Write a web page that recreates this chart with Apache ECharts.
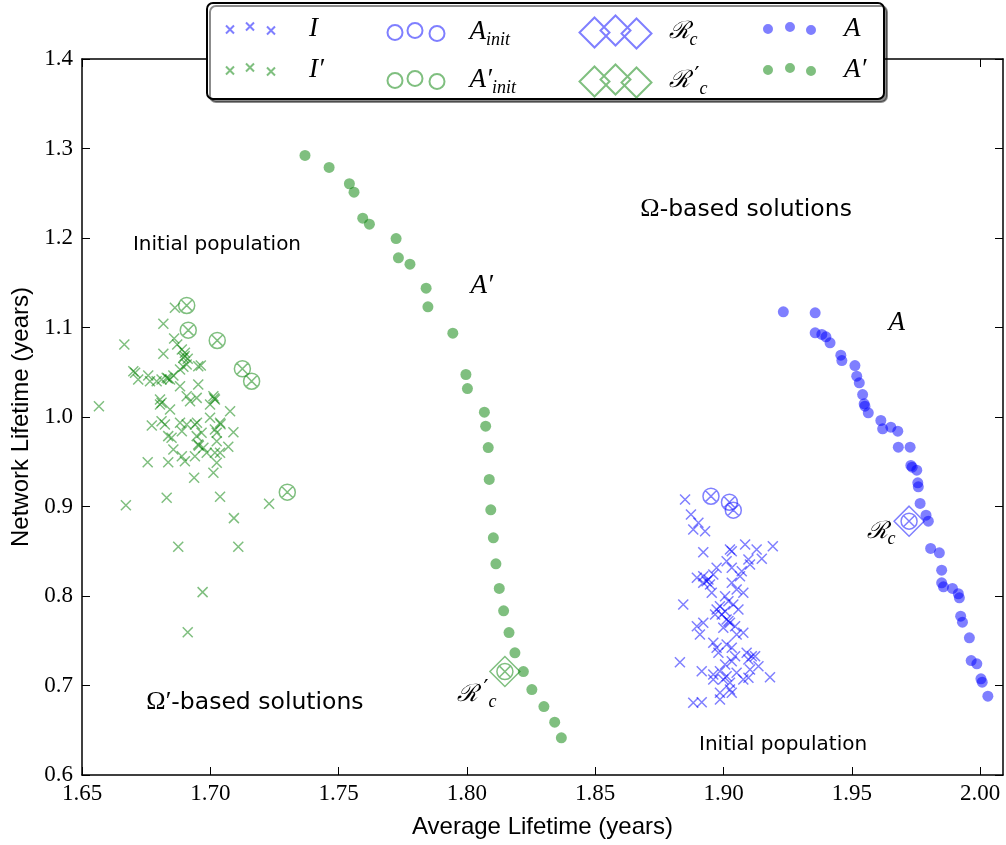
<!DOCTYPE html>
<html>
<head>
<meta charset="utf-8">
<script src="https://cdn.jsdelivr.net/npm/echarts@6/dist/echarts.min.js"></script>
<style>
  html, body { margin: 0; padding: 0; background: #fff; }
  #chart { width: 1006px; height: 845px; }
</style>
</head>
<body>
<div id="chart"></div>
<script>
// Axis ticks
const xTicks = [1.65, 1.70, 1.75, 1.80, 1.85, 1.90, 1.95, 2.00];
const xMin = 1.65, xMax = 2.0089;
const yMin = 0.6, yMax = 1.4, yStep = 0.1;

// Initial population for the Omega-based run (I)
const popI = [
  [1.8850,0.9078],[1.8873,0.8911],[1.8902,0.8818],[1.8882,0.8743],[1.8928,0.8724],
  [1.8921,0.8489],[1.9025,0.8520],[1.9032,0.8501],[1.9084,0.8575],[1.9129,0.8520],
  [1.9192,0.8556],[1.9149,0.8416],[1.9097,0.8408],[1.8896,0.8203],[1.8921,0.8221],
  [1.8941,0.8184],[1.8960,0.8240],[1.8973,0.8315],[1.8947,0.8128],[1.8921,0.8147],
  [1.8934,0.8165],[1.9012,0.8389],[1.9032,0.8315],[1.9071,0.8277],[1.9103,0.8352],
  [1.9064,0.8221],[1.8954,0.8036],[1.9032,0.8147],[1.9051,0.8073],[1.9077,0.8036],
  [1.8843,0.7905],[1.9006,0.7998],[1.9019,0.7942],[1.8986,0.7886],[1.9038,0.7905],
  [1.9058,0.7849],[1.8973,0.7849],[1.8993,0.7793],[1.9006,0.7830],[1.9012,0.7737],
  [1.9019,0.7720],[1.9025,0.7701],[1.9045,0.7663],[1.8999,0.7645],[1.8967,0.7793],
  [1.8896,0.7663],[1.8921,0.7701],[1.8908,0.7570],[1.9051,0.7570],[1.9077,0.7589],
  [1.8960,0.7477],[1.8973,0.7421],[1.8980,0.7365],[1.9012,0.7458],[1.9032,0.7421],
  [1.9045,0.7327],[1.9090,0.7365],[1.9110,0.7327],[1.9097,0.7291],[1.9123,0.7327],
  [1.8830,0.7260],[1.8915,0.7160],[1.8960,0.7123],[1.8986,0.7160],[1.9006,0.7235],
  [1.9032,0.7271],[1.9051,0.7142],[1.9103,0.7179],[1.9136,0.7216],[1.9077,0.7067],
  [1.9097,0.7086],[1.9181,0.7093],[1.8960,0.7067],[1.8999,0.7067],[1.9025,0.7030],
  [1.9012,0.7104],[1.8986,0.6918],[1.9025,0.6955],[1.9032,0.6918],[1.8882,0.6807],
  [1.8915,0.6813],[1.8986,0.6844]
];

// Initial population for the Omega'-based run (I')
const popIp = [
  [1.6862,1.1220],[1.6817,1.1041],[1.6665,1.0810],[1.6859,1.0877],[1.6817,1.0706],
  [1.6871,1.0810],[1.6889,1.0754],[1.6901,1.0717],[1.6895,1.0661],[1.6908,1.0587],
  [1.6895,1.0561],[1.6882,1.0531],[1.6953,1.0568],[1.6963,1.0575],[1.6700,1.0512],
  [1.6707,1.0494],[1.6719,1.0419],[1.6758,1.0464],[1.6765,1.0400],[1.6791,1.0400],
  [1.6810,1.0419],[1.6830,1.0438],[1.6843,1.0419],[1.6856,1.0464],[1.6882,1.0344],
  [1.6908,1.0232],[1.6953,1.0363],[1.6804,1.0196],[1.6804,1.0140],[1.6843,1.0084],
  [1.6921,1.0177],[1.6947,1.0214],[1.7012,1.0232],[1.7018,1.0196],[1.6999,1.0140],
  [1.7077,1.0065],[1.6566,1.0121],[1.6772,0.9905],[1.6810,0.9953],[1.6823,0.9916],
  [1.6882,0.9935],[1.6889,0.9841],[1.6908,0.9916],[1.6940,0.9916],[1.6948,0.9935],
  [1.6999,0.9991],[1.7018,0.9860],[1.7038,0.9935],[1.7025,0.9823],[1.6836,0.9786],
  [1.6849,0.9768],[1.6947,0.9786],[1.6966,0.9823],[1.7090,0.9830],[1.7025,0.9730],
  [1.7070,0.9667],[1.6856,0.9637],[1.6889,0.9562],[1.6901,0.9506],[1.6940,0.9562],
  [1.6953,0.9693],[1.6973,0.9656],[1.6986,0.9600],[1.7018,0.9600],[1.7038,0.9600],
  [1.6756,0.9495],[1.6836,0.9495],[1.7025,0.9488],[1.6937,0.9321],[1.7012,0.9377],
  [1.6830,0.9097],[1.7038,0.9108],[1.6671,0.9015],[1.7229,0.9030],[1.7092,0.8870],
  [1.6875,0.8550],[1.7109,0.8550],[1.6970,0.8043],[1.6912,0.7596],
  [1.6900,1.0680],[1.6912,1.0650],[1.6835,1.0430],[1.7015,1.0210],[1.6955,0.9680],
  [1.7040,0.9920],[1.6810,1.0160]
];

// Solutions picked to seed each run
const initA = [[1.8951,0.9115],[1.9023,0.9048],[1.9038,0.8959]];
const initAp = [[1.6908,1.1246],[1.6914,1.0970],[1.7027,1.0855],[1.7125,1.0539],[1.7161,1.0400],[1.7300,0.9160]];

// Compromise solutions
const refRc = [[1.9723,0.8836]];
const refRcp = [[1.8148,0.7156]];

// Final Pareto front, Omega-based (A)
const frontA = [
  [1.9233,1.1175],[1.9357,1.1164],[1.9357,1.0941],[1.9383,1.0922],[1.9399,1.0896],
  [1.9415,1.0829],[1.9457,1.0691],[1.9461,1.0631],[1.9512,1.0575],[1.9519,1.0456],
  [1.9529,1.0382],[1.9542,1.0251],[1.9548,1.0147],[1.9551,1.0121],[1.9564,1.0047],
  [1.9613,0.9961],[1.9620,0.9868],[1.9652,0.9886],[1.9679,0.9841],[1.9681,0.9663],
  [1.9727,0.9663],[1.9730,0.9458],[1.9735,0.9439],[1.9753,0.9406],[1.9757,0.9265],
  [1.9759,0.9220],[1.9766,0.9034],[1.9789,0.8903],[1.9798,0.8836],[1.9807,0.8531],
  [1.9841,0.8483],[1.9850,0.8288],[1.9850,0.8147],[1.9857,0.8103],[1.9892,0.8084],
  [1.9915,0.8025],[1.9919,0.7980],[1.9924,0.7774],[1.9931,0.7707],[1.9958,0.7533],
  [1.9965,0.7279],[1.9987,0.7242],[2.0003,0.7075],[2.0008,0.7037],[2.0030,0.6881]
];

// Final Pareto front, Omega'-based (A')
const frontAp = [
  [1.7369,1.2922],[1.7463,1.2788],[1.7542,1.2606],[1.7560,1.2512],[1.7594,1.2221],
  [1.7620,1.2154],[1.7724,1.1994],[1.7733,1.1779],[1.7778,1.1707],[1.7841,1.1439],
  [1.7848,1.1231],[1.7945,1.0936],[1.7996,1.0475],[1.8002,1.0318],[1.8068,1.0054],
  [1.8073,0.9897],[1.8083,0.9659],[1.8087,0.9302],[1.8093,0.8963],[1.8103,0.8650],
  [1.8113,0.8360],[1.8126,0.8084],[1.8143,0.7835],[1.8164,0.7592],[1.8187,0.7365],
  [1.8220,0.7156],[1.8253,0.6955],[1.8300,0.6765],[1.8342,0.6590],[1.8368,0.6416]
];

// Text notes placed in data space
const noteX = [1.7026, 1.9232, 1.9088, 1.7174, 1.8058, 1.9675, 1.9614, 1.8039];
const noteY = [1.1927, 0.6341, 1.2318, 0.6810, 1.1462, 1.1053, 0.8721, 0.6899];
const noteText = [
  '{t|Initial population}',
  '{t|Initial population}',
  '{g|Ω}{u|-based solutions}',
  '{g|Ω′}{u|-based solutions}',
  '{m|A′}',
  '{m|A}',
  '{c|ℛ}{s|c}',
  '{c|ℛ}{p|′}{s|c}'
];

// Series names and their typeset legend labels
const legendText = {
  'I': '{m|I}',
  'I′': '{m|I′}',
  'A_init': '{m|A}{s|init}',
  'A′_init': '{m|A′}{s|init}',
  'R_c': '{c|ℛ}{s|c}',
  'R′_c': '{c|ℛ}{p|′}{s|c}',
  'A': '{m|A}',
  'A′': '{m|A′}'
};

const BLUE = 'rgba(0,0,255,0.5)';
const GREEN = 'rgba(0,128,0,0.5)';

// Marker shapes
const crossSym = 'path://M0,0L10,10M10,0L0,10';
const ringCrossSym = 'path://M0,8A8,8 0 1,1 16,8A8,8 0 1,1 0,8ZM2.34,2.34L13.66,13.66M13.66,2.34L2.34,13.66';
const diamondRingSym = 'path://M15,0L30,15L15,30L0,15ZM7,15A8,8 0 1,1 23,15A8,8 0 1,1 7,15ZM9.34,9.34L20.66,20.66M20.66,9.34L9.34,20.66';

// Legend icons: three markers per entry
const crossIcon = 'path://M0,3L8,11M8,3L0,11M20,0L28,8M28,0L20,8M41,4L49,12M49,4L41,12';
const ringIcon = 'path://M0,9.5A7.5,7.5 0 1,1 15,9.5A7.5,7.5 0 1,1 0,9.5ZM20,7.5A7.5,7.5 0 1,1 35,7.5A7.5,7.5 0 1,1 20,7.5ZM42,10.5A7.5,7.5 0 1,1 57,10.5A7.5,7.5 0 1,1 42,10.5Z';
const diamondIcon = 'path://M15,2L30,17L15,32L0,17ZM36,0L51,15L36,30L21,15ZM57,3L72,18L57,33L42,18Z';
const dotIcon = 'path://M0,7A5,5 0 1,1 10,7A5,5 0 1,1 0,7ZM22,5A5,5 0 1,1 32,5A5,5 0 1,1 22,5ZM43,8A5,5 0 1,1 53,8A5,5 0 1,1 43,8Z';

const SERIF = "'Liberation Serif', 'DejaVu Serif', serif";
const SANS = "'DejaVu Sans', sans-serif";
const CAL = "'DejaVu Serif', serif";

// Prime drawn raised, set clear of the script R's overhang
const primeStyle = { fontFamily: "'DejaVu Sans', sans-serif", fontSize: 22, lineHeight: 30, color: '#000', padding: [0, 0, 10, 5] };

function mathRich(pad) {
  return {
    m: { fontFamily: SERIF, fontStyle: 'italic', fontSize: 27, lineHeight: 30, color: '#000', padding: [0, 0, 0, pad] },
    c: { fontFamily: CAL, fontStyle: 'italic', fontSize: 24, lineHeight: 30, color: '#000', padding: [0, 0, 0, pad] },
    p: primeStyle,
    s: { fontFamily: SERIF, fontStyle: 'italic', fontSize: 18, lineHeight: 14, color: '#000', padding: [16, 0, 0, 0] }
  };
}

function legendColumn(names, left, top, icon, w, h, gap, pad) {
  return {
    show: true,
    orient: 'vertical',
    left: left,
    top: top,
    padding: 0,
    itemGap: gap,
    itemWidth: w,
    itemHeight: h,
    selectedMode: false,
    z: 12,
    data: names.map(n => ({ name: n, icon: icon })),
    formatter: n => legendText[n],
    textStyle: { color: '#000', rich: mathRich(pad) }
  };
}

const axisLineStyle = { color: '#000', width: 1.5 };
const tickStyle = { color: '#000', width: 1 };
const titleFont = { fontFamily: "'Liberation Sans', sans-serif", fontSize: 24, color: '#000' };

function scatter(name, data, symbol, size, fill, stroke, z) {
  return {
    name: name,
    type: 'scatter',
    data: data,
    symbol: symbol,
    symbolSize: size,
    z: z,
    itemStyle: { color: fill, borderColor: stroke, borderWidth: stroke === 'none' ? 0 : 1.5, opacity: 1 },
    emphasis: { disabled: true }
  };
}

const chart = echarts.init(document.getElementById('chart'), null, { renderer: 'canvas' });

chart.setOption({
  animation: false,
  backgroundColor: '#fff',
  grid: { left: 82, right: 3, top: 59, bottom: 70, containLabel: false },
  xAxis: [
    {
      type: 'value', min: xMin, max: xMax, position: 'bottom',
      axisLine: { show: true, onZero: false, lineStyle: axisLineStyle },
      axisTick: { show: true, inside: true, length: 8, customValues: xTicks, lineStyle: tickStyle },
      axisLabel: { customValues: xTicks, formatter: v => v.toFixed(2), fontFamily: SERIF, fontSize: 23, color: '#000', margin: 7 },
      splitLine: { show: false },
      name: 'Average Lifetime (years)', nameLocation: 'middle', nameGap: 40,
      nameTextStyle: titleFont
    },
    {
      type: 'value', min: xMin, max: xMax, position: 'top',
      axisLine: { show: true, onZero: false, lineStyle: axisLineStyle },
      axisTick: { show: true, inside: true, length: 8, customValues: xTicks, lineStyle: tickStyle },
      axisLabel: { show: false },
      splitLine: { show: false }
    }
  ],
  yAxis: [
    {
      type: 'value', min: yMin, max: yMax, interval: yStep, position: 'left',
      axisLine: { show: true, onZero: false, lineStyle: axisLineStyle },
      axisTick: { show: true, inside: true, length: 8, lineStyle: tickStyle },
      axisLabel: { formatter: v => v.toFixed(1), fontFamily: SERIF, fontSize: 23, color: '#000', margin: 9 },
      splitLine: { show: false },
      name: 'Network Lifetime (years)', nameLocation: 'middle', nameGap: 48, nameRotate: 90,
      nameTextStyle: titleFont
    },
    {
      type: 'value', min: yMin, max: yMax, interval: yStep, position: 'right',
      axisLine: { show: true, onZero: false, lineStyle: axisLineStyle },
      axisTick: { show: true, inside: true, length: 8, lineStyle: tickStyle },
      axisLabel: { show: false },
      splitLine: { show: false }
    }
  ],
  legend: [
    legendColumn(['I', 'I′'], 225, 15, crossIcon, 49, 12, 14, 29),
    legendColumn(['A_init', 'A′_init'], 385, 15, ringIcon, 57, 18, 14, 20),
    legendColumn(['R_c', 'R′_c'], 577, 13, diamondIcon, 72, 33, 11, 12),
    legendColumn(['A', 'A′'], 763, 15, dotIcon, 53, 13, 14, 23)
  ],
  graphic: [
    {
      type: 'rect', z: 10,
      shape: { x: 207, y: 3, width: 677, height: 96, r: 6 },
      style: { fill: '#fff', stroke: '#000', lineWidth: 2, shadowColor: 'rgba(0,0,0,0.45)', shadowOffsetX: 3, shadowOffsetY: 3, shadowBlur: 0 }
    }
  ],
  series: [
    scatter('I', popI, crossSym, 10, BLUE, BLUE, 2),
    scatter('I′', popIp, crossSym, 10, GREEN, GREEN, 2),
    scatter('A_init', initA, ringCrossSym, 16, 'none', BLUE, 3),
    scatter('A′_init', initAp, ringCrossSym, 16, 'none', GREEN, 3),
    scatter('R_c', refRc, diamondRingSym, 30, 'none', BLUE, 4),
    scatter('R′_c', refRcp, diamondRingSym, 30, 'none', GREEN, 4),
    scatter('A', frontA, 'circle', 11, BLUE, 'none', 5),
    scatter('A′', frontAp, 'circle', 11, GREEN, 'none', 5),
    {
      name: 'notes',
      type: 'scatter',
      silent: true,
      z: 6,
      symbolSize: 1,
      itemStyle: { color: 'rgba(0,0,0,0)' },
      data: noteX.map((x, i) => ({ value: [x, noteY[i]], label: { formatter: noteText[i] } })),
      label: {
        show: true,
        position: 'inside',
        color: '#000',
        opacity: 1,
        textBorderWidth: 0,
        textShadowBlur: 0,
        rich: {
          t: { fontFamily: SANS, fontSize: 20, color: '#000', lineHeight: 30, textBorderWidth: 0 },
          u: { fontFamily: SANS, fontSize: 23.5, color: '#000', lineHeight: 30, textBorderWidth: 0 },
          g: { fontFamily: SERIF, fontSize: 26, color: '#000', lineHeight: 30, textBorderWidth: 0 },
          m: { fontFamily: SERIF, fontStyle: 'italic', fontSize: 27, color: '#000', lineHeight: 30, textBorderWidth: 0 },
          c: { fontFamily: CAL, fontStyle: 'italic', fontSize: 24, color: '#000', lineHeight: 30, textBorderWidth: 0 },
          p: primeStyle,
          s: { fontFamily: SERIF, fontStyle: 'italic', fontSize: 18, color: '#000', lineHeight: 14, padding: [16, 0, 0, 0], textBorderWidth: 0 }
        }
      }
    }
  ]
});
</script>
</body>
</html>
